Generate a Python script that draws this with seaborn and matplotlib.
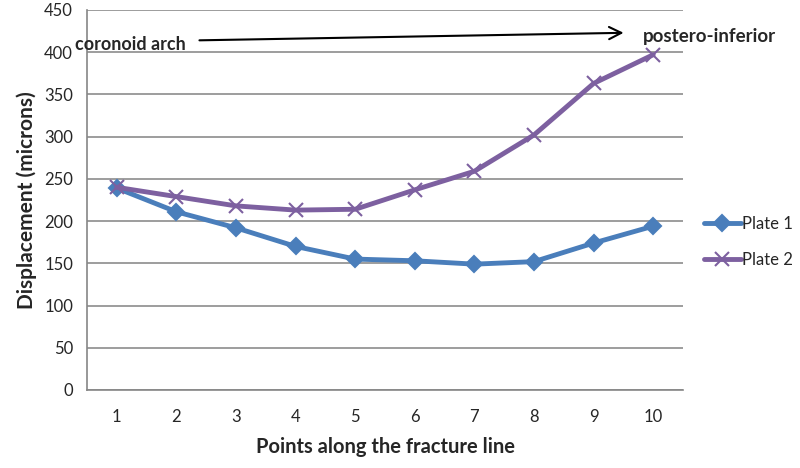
import numpy as np
import pandas as pd
import matplotlib as mpl
import matplotlib.pyplot as plt
import seaborn as sns

points = list(range(1, 11))
plate1 = [239, 211, 192, 170, 155, 153, 149, 152, 174, 194]
plate2 = [240, 229, 218, 213, 214, 237, 259, 302, 363, 397]
series_names = ["Plate 1", "Plate 2"]
y_ticks = list(range(0, 451, 50))

df = pd.DataFrame({
    "point": points * 2,
    "value": plate1 + plate2,
    "series": [series_names[0]] * len(points) + [series_names[1]] * len(points),
})

sns.set_style("white")
plt.rcParams['font.family'] = ['Lato', 'DejaVu Sans']

fig = plt.figure(figsize=(8, 4.68), dpi=100)
ax = fig.add_axes([0.10875, 0.1667, 0.745, 0.812])

colors = {"Plate 1": "#4A7EBB", "Plate 2": "#7D60A0"}
markers = {"Plate 1": "D", "Plate 2": "x"}
sizes = {"Plate 1": 8, "Plate 2": 10}
for name in series_names:
    sub = df[df["series"] == name]
    sns.lineplot(data=sub, x="point", y="value", label=name,
                 color=colors[name], marker=markers[name], markersize=sizes[name],
                 markeredgecolor=colors[name], markeredgewidth=1.5,
                 linewidth=3.5, ax=ax)

ax.set_xlim(0.5, 10.5)
ax.set_ylim(0, 450)
ax.set_yticks(y_ticks)
ax.set_xticks(points)
ax.set_xticks(np.arange(0.5, 11, 1), minor=True)
ax.tick_params(axis="x", which="major", length=0, pad=14, labelsize=12)
ax.tick_params(axis="x", which="minor", length=6, color="#868686", direction="out")
ax.tick_params(axis="y", length=6, color="#868686", direction="out", labelsize=12, pad=4)
ax.grid(axis="y", color="#8c8c8c", linewidth=1.2)
ax.set_axisbelow(True)
for s in ["top", "right"]:
    ax.spines[s].set_visible(False)
for s in ["left", "bottom"]:
    ax.spines[s].set_color("#868686")
    ax.spines[s].set_linewidth(1.2)

ax.set_xlabel("Points along the fracture line", fontsize=14.5, fontweight="bold", labelpad=8)
ax.set_ylabel("Displacement (microns)", fontsize=15, fontweight="bold", labelpad=5)

# direction arrow from coronoid arch to postero-inferior
ax.annotate("", xy=(9.55, 423), xytext=(2.34, 414),
            arrowprops=dict(arrowstyle="->", color="black", lw=1.5, mutation_scale=22),
            annotation_clip=False)
ax.text(0.3, 409, "coronoid arch", fontsize=13, fontweight="bold", ha="left", va="center")
ax.text(9.83, 419, "postero-inferior", fontsize=13.5, fontweight="bold", ha="left", va="center",
        clip_on=False)

leg = ax.legend(loc="center left", bbox_to_anchor=(1.01, 0.39), frameon=False,
                fontsize=12, handlelength=2.2, handletextpad=0.1, labelspacing=1.2)

fig.savefig("out.png", dpi=100)
